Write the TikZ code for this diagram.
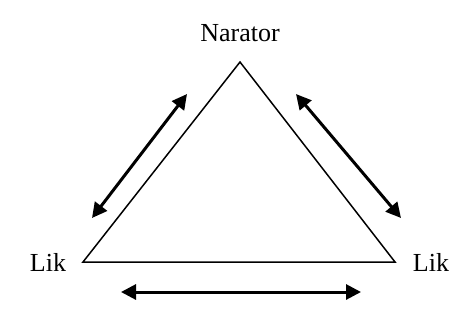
\documentclass[tikz,border=0pt]{standalone}
\usepackage{fontspec}
\setmainfont{Liberation Serif}
\usetikzlibrary{arrows.meta}
\begin{document}
\begin{tikzpicture}[x=1pt,y=-1pt,
  lbl/.style={font=\fontsize{26}{30}\selectfont, inner sep=0pt},
  dbl/.style={line width=3pt, {Triangle[length=15pt,width=15pt]}-{Triangle[length=15pt,width=15pt]}},
  tri/.style={line width=1.5pt, line join=miter}]
\useasboundingbox (0,0) rectangle (470,325);
\coordinate (top) at (240,62);
\coordinate (bl) at (83,262);
\coordinate (br) at (395,262);
\draw[tri] (top) -- (bl) -- (br) -- cycle;
\node[lbl] (nar) at (240,33) {Narator};
\node[lbl] (lik1) at (48,262) {Lik};
\node[lbl] (lik2) at (431,262) {Lik};
\coordinate (l1) at (92,218);
\coordinate (l2) at (187,94);
\coordinate (r1) at (296,94);
\coordinate (r2) at (401,218);
\coordinate (b1) at (121,292);
\coordinate (b2) at (361,292);
\draw[dbl] (l1) -- (l2);
\draw[dbl] (r1) -- (r2);
\draw[dbl] (b1) -- (b2);
\end{tikzpicture}
\end{document}
